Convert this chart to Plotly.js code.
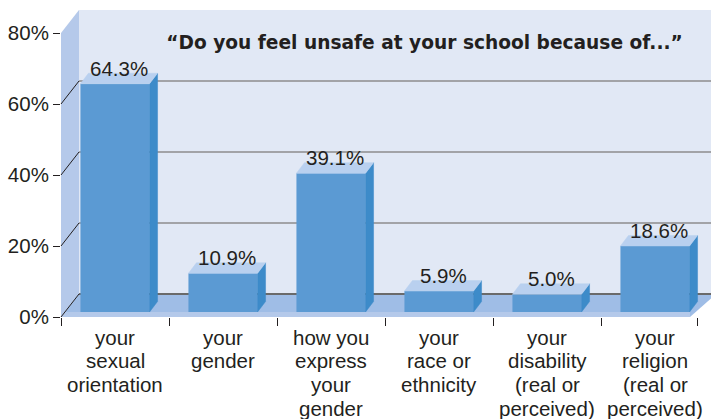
<!DOCTYPE html>
<html><head><meta charset="utf-8">
<script src="https://cdn.plot.ly/plotly-3.0.1.min.js"></script>
<style>html,body{margin:0;padding:0;background:#fff}#chart{width:711px;height:419px}</style>
</head><body><div id="chart"></div>
<script>
// ---- data ----
const categories = [["your", "sexual", "orientation"], ["your", "gender"], ["how you", "express", "your", "gender"], ["your", "race or", "ethnicity"], ["your", "disability", "(real or", "perceived)"], ["your", "religion", "(real or", "perceived)"]];
const values = [64.3, 10.9, 39.1, 5.9, 5.0, 18.6];
const valueLabels = values.map(v => v.toFixed(1) + "%");
const yTickValues = [0, 20, 40, 60, 80];
const yTickLabels = ["0%", "20%", "40%", "60%", "80%"];
const titleText = "\u201CDo you feel unsafe at your school because of...\u201D";

// ---- geometry / style ----
const W = 711, H = 419, ML = 61, MR = 2, MT = 33, MB = 102;
const PW = W - ML - MR, PH = H - MT - MB;
const xMin = -0.5, xMax = 5.5, yMax = 80;
const pxPerX = PW / (xMax - xMin), pxPerY = PH / yMax;
const frontY = H - MB;            // pixel row of 0% at the front edge
const barLift = 5;                // bars stand this far behind the front edge
const lift = barLift / pxPerY;    // same, in value units
const roomDX = 18, roomDY = 23;   // depth of the room
const barDX = 8, barDY = 10.5;    // depth of bars
const barWidth = 0.64;
const floorEndPx = 690, lastTickPx = 697;
const labelTop = 20, labelLine = 23.7;

const TXT = "#231f20";
const FONT = "Liberation Sans, Arial, sans-serif";
const px = v => (v - ML) / PW;
const py = v => (frontY - v) / PH;

const backL = ML + roomDX, backB = frontY - roomDY, backT = MT - roomDY;
const shapes = [];
shapes.push({type: "rect", xref: "paper", yref: "paper", x0: px(backL), x1: px(W + 5), y0: py(backB), y1: py(backT),
  fillcolor: "#e1e8f5", line: {width: 0}, layer: "below"});
shapes.push({type: "path", xref: "paper", yref: "paper",
  path: `M ${px(ML)},${py(MT)} L ${px(backL)},${py(backT)} L ${px(backL)},${py(backB)} L ${px(ML)},${py(frontY)} Z`,
  fillcolor: "#b5c9ea", line: {width: 0}, layer: "below"});
shapes.push({type: "path", xref: "paper", yref: "paper",
  path: `M ${px(ML)},${py(frontY)} L ${px(backL)},${py(backB)} L ${px(W + 5)},${py(backB)} L ${px(floorEndPx)},${py(frontY)} Z`,
  fillcolor: "#9fbde6", line: {width: 0}, layer: "below"});
shapes.push({type: "rect", xref: "paper", yref: "paper", x0: px(ML), x1: px(floorEndPx), y0: py(frontY), y1: py(frontY - barLift),
  fillcolor: "#b4c9ea", line: {width: 0}, layer: "below"});
yTickValues.filter(v => v > 0 && v < yMax).forEach(v => {
  const yy = v / yMax + roomDY / PH;
  shapes.push({type: "line", xref: "paper", yref: "paper", x0: px(backL), x1: px(W + 5), y0: yy, y1: yy,
    line: {color: "#8c8c8c", width: 1.5}, layer: "below"});
});
shapes.push({type: "line", xref: "paper", yref: "paper", x0: px(backL), x1: px(W + 5), y0: roomDY / PH, y1: roomDY / PH,
  line: {color: "#6a6a6a", width: 2}, layer: "below"});
yTickValues.filter(v => v < yMax).forEach(v => {
  shapes.push({type: "line", xref: "paper", yref: "paper", x0: 0, x1: px(backL), y0: v / yMax, y1: v / yMax + roomDY / PH,
    line: {color: TXT, width: 1}, layer: "below"});
});

// ---- bar faces built from data ----
const hw = barWidth / 2, ddx = barDX / pxPerX, ddy = barDY / pxPerY;
const idx = values.map((v, i) => i);
const sideX = [], sideY = [], topX = [], topY = [];
values.forEach((v, i) => {
  sideX.push(i + hw, i + hw, i + hw + ddx, i + hw + ddx, i + hw, null);
  sideY.push(0, v, v + ddy, ddy, 0, null);
  topX.push(i - hw, i + hw, i + hw + ddx, i - hw + ddx, i - hw, null);
  topY.push(v, v, v + ddy, v + ddy, v, null);
});

const traces = [
  {type: "bar", x: idx, y: values, width: barWidth, marker: {color: "#5b9ad3", line: {width: 0}}, hoverinfo: "skip"},
  {type: "scatter", mode: "lines", x: sideX, y: sideY, fill: "toself", fillcolor: "#3d8bc9",
    line: {width: 0.5, color: "#3d8bc9"}, hoverinfo: "skip"},
  {type: "scatter", mode: "lines", x: topX, y: topY, fill: "toself", fillcolor: "#b9d0ef",
    line: {width: 0.5, color: "#b9d0ef"}, hoverinfo: "skip"}
];

const annotations = values.map((v, i) => ({
  x: i + ddx / 2, y: v, xref: "x", yref: "y", text: valueLabels[i], showarrow: false,
  yanchor: "bottom", xanchor: "center", yshift: 2, font: {family: FONT, size: 20.5, color: TXT}
}));
categories.forEach((lines, i) => lines.forEach((t, j) => annotations.push({
  x: i, y: 0, xref: "x", yref: "paper", text: t, showarrow: false, xanchor: "center", yanchor: "middle",
  yshift: -(labelTop + j * labelLine), font: {family: FONT, size: 20.5, color: TXT}
})));

const boundaries = idx.map(i => i - 0.5).concat([(lastTickPx - ML) / pxPerX + xMin]);

const layout = {
  width: W, height: H, margin: {l: ML, r: MR, t: MT, b: MB},
  paper_bgcolor: "#ffffff", plot_bgcolor: "rgba(0,0,0,0)",
  showlegend: false,
  title: {text: titleText, xref: "paper", x: px(424.5), xanchor: "center", yref: "container", y: 1 - 42 / H, yanchor: "middle",
    font: {family: "DejaVu Sans, Verdana, sans-serif", size: 18.6, weight: "bold", color: TXT}},
  xaxis: {type: "linear", range: [xMin, xMax], tickmode: "array", tickvals: boundaries, showticklabels: false,
    ticks: "outside", ticklen: 8, tickwidth: 1, tickcolor: TXT,
    showgrid: false, zeroline: false, showline: false, fixedrange: true},
  yaxis: {range: [-lift, yMax - lift], tickmode: "array", tickvals: yTickValues.map(v => v - lift), ticktext: yTickLabels,
    ticks: "outside", ticklen: 7, tickwidth: 1, tickcolor: TXT, showgrid: false, zeroline: false, showline: false,
    tickfont: {family: FONT, size: 20.5, color: TXT}, fixedrange: true},
  shapes: shapes,
  annotations: annotations
};

Plotly.newPlot("chart", traces, layout, {displayModeBar: false, staticPlot: true});
</script>
</body></html>
